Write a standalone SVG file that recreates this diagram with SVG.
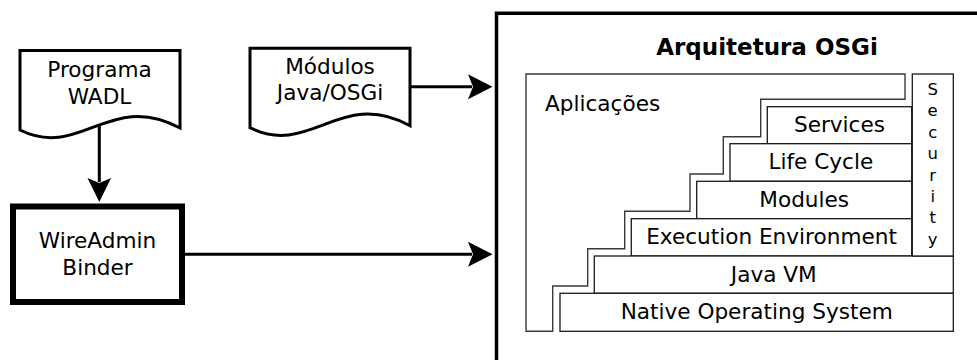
<svg xmlns="http://www.w3.org/2000/svg" width="977" height="360" viewBox="0 0 977 360">
  <style>
    text { font-family: "DejaVu Sans", "Liberation Sans", sans-serif; font-size: 21.6px; fill: #000; }
    .c { text-anchor: middle; }
    .title { font-weight: bold; font-size: 23px; }
    .sec { font-size: 16.5px; }
    .doc { fill: #fff; stroke: #000; stroke-width: 3; stroke-linejoin: miter; }
    .layer { fill: #fff; stroke: #1a1a1a; stroke-width: 1.3; }
    .apps { fill: #fff; stroke: #3a3a3a; stroke-width: 1.4; }
    .conn { stroke: #000; stroke-width: 3; fill: none; }
    .head { fill: #000; }
  </style>
  <defs>
    <!-- document shape with wavy bottom edge -->
    <path id="docShape" d="M20,50.5 H180 V128 C110,90 80,160 20,130 Z"/>
  </defs>

  <rect width="977" height="360" fill="#fff"/>

  <!-- framework container, runs off the right and bottom edges -->
  <g id="framework">
    <path d="M496.5,362 V13.3 H980" fill="none" stroke="#000" stroke-width="3.5"/>
    <text class="title c" x="767" y="55">Arquitetura OSGi</text>
  </g>

  <g id="aplicacoes">
    <path class="apps" d="M526,74 H905 V99.3 H760.7 V136.7 H723.3 V174 H690 V211.3 H624.7 V248.7 H587.7 V286 H552.7 V331.3 H526 Z"/>
    <text x="545" y="111">Aplicações</text>
  </g>

  <g id="services">
    <rect class="layer" x="767.3" y="106.7" width="144.4" height="37"/>
    <text class="c" x="839.5" y="131.7">Services</text>
  </g>
  <g id="lifecycle">
    <rect class="layer" x="730" y="143.7" width="181.7" height="37.6"/>
    <text class="c" x="820.8" y="169.3">Life Cycle</text>
  </g>
  <g id="modules">
    <rect class="layer" x="696.7" y="181.3" width="215" height="37.4"/>
    <text class="c" x="804.2" y="206.7">Modules</text>
  </g>
  <g id="execution">
    <rect class="layer" x="631.3" y="218.7" width="280.4" height="37.3"/>
    <text class="c" x="771.5" y="244.3">Execution Environment</text>
  </g>
  <g id="javavm">
    <rect class="layer" x="594.3" y="256" width="359" height="37.3"/>
    <text class="c" x="773.8" y="281.7">Java VM</text>
  </g>
  <g id="nativeos">
    <rect class="layer" x="560" y="293.3" width="393.3" height="38"/>
    <text class="c" x="756.7" y="319">Native Operating System</text>
  </g>
  <g id="security">
    <rect class="layer" x="912.3" y="74" width="41" height="182"/>
    <text class="c sec" x="932.7" y="95">S</text>
    <text class="c sec" x="932.7" y="116.4">e</text>
    <text class="c sec" x="932.7" y="137.8">c</text>
    <text class="c sec" x="932.7" y="159.2">u</text>
    <text class="c sec" x="932.7" y="180.6">r</text>
    <text class="c sec" x="932.7" y="202">i</text>
    <text class="c sec" x="932.7" y="223.4">t</text>
    <text class="c sec" x="932.7" y="244.8">y</text>
  </g>

  <g id="programa">
    <use href="#docShape" class="doc"/>
    <text class="c" x="99.5" y="77">Programa</text>
    <text class="c" x="99.5" y="104">WADL</text>
  </g>

  <g id="modulos">
    <use href="#docShape" class="doc" transform="translate(230,-2.3)"/>
    <text class="c" x="330" y="74">Módulos</text>
    <text class="c" x="330" y="100">Java/OSGi</text>
  </g>

  <g id="binder">
    <rect x="13" y="206.5" width="169" height="95.5" fill="#fff" stroke="#000" stroke-width="6"/>
    <text class="c" x="97.5" y="248">WireAdmin</text>
    <text class="c" x="97.5" y="275">Binder</text>
  </g>

  <g id="connectors">
    <line class="conn" x1="410" y1="86.8" x2="472" y2="86.8"/>
    <path class="head" d="M492.5,86.8 L468,74.3 L473,86.8 L468,99.3 Z"/>
    <line class="conn" x1="99.3" y1="125" x2="99.3" y2="182"/>
    <path class="head" d="M99.3,202 L87.5,178 L99.3,183 L111.1,178 Z"/>
    <line class="conn" x1="185" y1="254.3" x2="472" y2="254.3"/>
    <path class="head" d="M492.5,254.3 L468,241.8 L473,254.3 L468,266.8 Z"/>
  </g>
</svg>
